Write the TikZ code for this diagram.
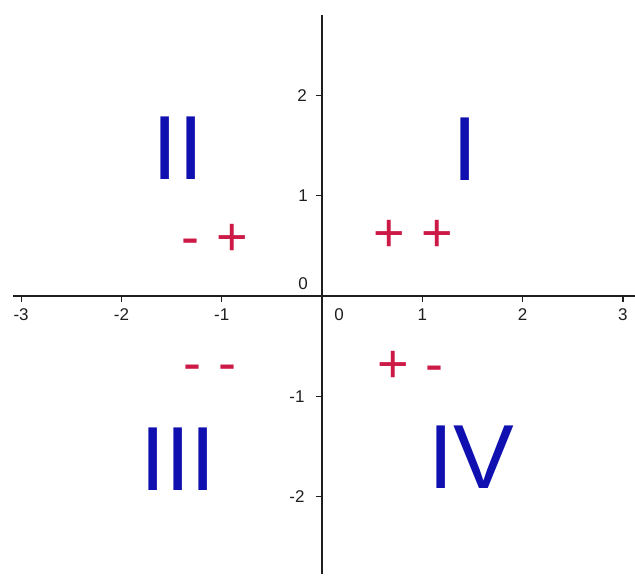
\documentclass[tikz,border=0pt]{standalone}
\usepackage{fontspec}
\setmainfont{Liberation Sans}
\definecolor{numblue}{RGB}{16,16,176}
\definecolor{signred}{RGB}{205,25,70}
\definecolor{axisgray}{RGB}{30,30,30}
\begin{document}
\begin{tikzpicture}[x=1pt,y=-1pt,
  axisline/.style={line width=1.6pt,draw=axisgray},
  tickline/.style={line width=1.2pt,draw=axisgray},
  ticklabel/.style={inner sep=0pt,anchor=base,text=axisgray,font=\fontsize{17}{17}\selectfont},
  quadnum/.style={inner sep=0pt,anchor=base,text=numblue,font=\fontsize{91}{91}\selectfont},
  signtext/.style={inner sep=0pt,anchor=base,text=signred,font=\fontsize{54}{54}\selectfont}]
\useasboundingbox (0,0) rectangle (635,577);
% axes
\coordinate (xl) at (13,296);
\coordinate (xr) at (635,296);
\coordinate (yt) at (322,15);
\coordinate (yb) at (322,574);
\draw[axisline] (xl) -- (xr);
\draw[axisline] (yt) -- (yb);
% x ticks and labels
\foreach \i/\lab in {-3/-3,-2/-2,-1/-1,1/1,2/2,3/3}{
  \coordinate (xt\i) at ({322+100.3*\i},296);
  \coordinate (xe\i) at ({322+100.3*\i},302);
  \draw[tickline] (xt\i) -- (xe\i);
  \node[ticklabel] (xlab\i) at ({322+100.3*\i},321) {\lab};
}
% y ticks and labels
\foreach \j/\lab/\dx in {2/2/302,1/1/303,-1/-1/297,-2/-2/297}{
  \coordinate (yt\j) at (322,{296-100.3*\j});
  \coordinate (ye\j) at (316,{296-100.3*\j});
  \draw[tickline] (yt\j) -- (ye\j);
  \node[ticklabel] (ylab\j) at (\dx,{296-100.3*\j+6}) {\lab};
}
\node[ticklabel] (zeroy) at (303,290) {0};
\node[ticklabel] (zerox) at (339,321) {0};
% quadrant numerals
\node[quadnum] (qI) at (465,181) {I};
\node[quadnum] (qII) at (178,180) {II};
\node[quadnum] (qIII) at (178,490) {III};
\node[quadnum] (qIV) at (471,488) {IV};
% signs
\node[signtext] (s2a) at (190,256) {-};
\node[signtext] (s2b) at (232,256) {+};
\node[signtext] (s1a) at (389,252) {+};
\node[signtext] (s1b) at (437,252) {+};
\node[signtext] (s3a) at (192,382) {-};
\node[signtext] (s3b) at (227,382) {-};
\node[signtext] (s4a) at (393,383) {+};
\node[signtext] (s4b) at (434,383) {-};
\end{tikzpicture}
\end{document}
